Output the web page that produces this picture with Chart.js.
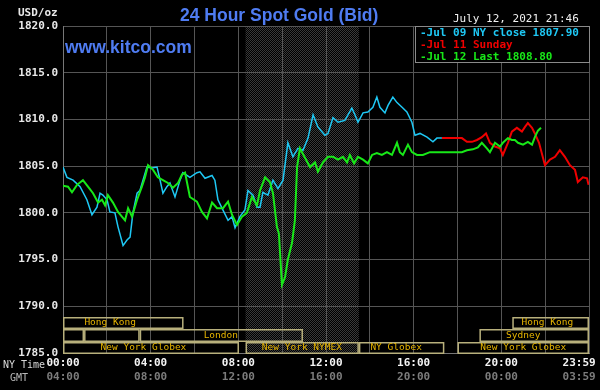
<!DOCTYPE html>
<html>
<head>
<meta charset="utf-8">
<script src="https://cdn.jsdelivr.net/npm/chart.js@4.4.1/dist/chart.umd.min.js"></script>
<style>
  html, body { margin: 0; padding: 0; background: #000; }
  canvas { display: block; }
</style>
</head>
<body>
<canvas id="goldChart" width="600" height="390"></canvas>
<script>
// hours after NY midnight, bid price USD/oz
const jul09Hours = [0, 0.18, 0.46, 0.78, 1.09, 1.32, 1.55, 1.69, 1.82, 2.01,
  2.14, 2.37, 2.51, 2.74, 2.92, 3.06, 3.19, 3.38, 3.51, 3.65,
  3.83, 4.06, 4.29, 4.43, 4.56, 4.74, 4.88, 5.11, 5.34, 5.47,
  5.79, 6.11, 6.25, 6.48, 6.80, 6.93, 7.07, 7.30, 7.53, 7.71,
  7.85, 8.07, 8.30, 8.44, 8.67, 8.85, 8.99, 9.12, 9.35, 9.58,
  9.81, 10.04, 10.26, 10.49, 10.72, 10.95, 11.18, 11.41, 11.63, 11.95,
  12.09, 12.32, 12.55, 12.86, 13.18, 13.32, 13.46, 13.69, 13.91, 14.14,
  14.32, 14.46, 14.69, 14.83, 15.05, 15.24, 15.47, 15.69, 15.92, 16.06,
  16.29, 16.61, 16.88, 17.06, 17.29];
const jul09Prices = [1804.9, 1803.8, 1803.5, 1802.8, 1801.4, 1799.8, 1800.6, 1802.1, 1801.9, 1801.4,
  1800.1, 1800.0, 1798.5, 1796.5, 1797.1, 1797.4, 1800.0, 1802.1, 1802.4, 1803.5,
  1804.9, 1804.8, 1804.9, 1803.5, 1802.1, 1802.8, 1803.2, 1801.7, 1803.5, 1804.3,
  1803.8, 1804.3, 1804.4, 1803.7, 1804.0, 1803.5, 1801.4, 1800.3, 1799.2, 1799.6,
  1798.4, 1799.6, 1800.3, 1802.4, 1801.9, 1800.6, 1800.6, 1802.2, 1801.9, 1803.5,
  1802.6, 1803.5, 1807.5, 1806.0, 1806.9, 1806.7, 1808.0, 1810.5, 1809.2, 1808.3,
  1808.5, 1810.2, 1809.7, 1809.9, 1811.2, 1810.5, 1809.7, 1810.7, 1810.8, 1811.3,
  1812.4, 1811.3, 1810.7, 1811.5, 1812.4, 1811.8, 1811.3, 1810.8, 1809.7, 1808.3,
  1808.5, 1808.1, 1807.6, 1808.0, 1808.0];

const jul11Hours = [17.29, 18.20, 18.43, 18.66, 18.89, 19.11, 19.30, 19.48, 19.71, 19.94,
  20.07, 20.30, 20.48, 20.71, 20.94, 21.08, 21.21, 21.40, 21.53, 21.72,
  21.99, 22.22, 22.45, 22.67, 22.90, 23.13, 23.36, 23.49, 23.72, 23.91,
  23.98];
const jul11Prices = [1808.0, 1808.0, 1807.6, 1807.6, 1807.8, 1808.1, 1808.5, 1807.5, 1807.1, 1806.9,
  1806.2, 1807.5, 1808.7, 1809.1, 1808.7, 1809.2, 1809.6, 1809.1, 1808.5, 1807.5,
  1805.1, 1805.7, 1806.0, 1806.7, 1806.0, 1805.1, 1804.6, 1803.3, 1803.8, 1803.7,
  1803.0];

const jul12Hours = [0, 0.23, 0.41, 0.64, 0.91, 1.14, 1.37, 1.60, 1.78, 1.92,
  2.05, 2.28, 2.51, 2.83, 2.97, 3.15, 3.38, 3.60, 3.74, 3.88,
  4.11, 4.33, 4.56, 4.79, 5.02, 5.25, 5.43, 5.57, 5.79, 6.11,
  6.34, 6.57, 6.80, 7.03, 7.30, 7.53, 7.71, 7.94, 8.17, 8.39,
  8.62, 8.85, 8.99, 9.22, 9.44, 9.58, 9.76, 9.85, 9.99, 10.13,
  10.26, 10.45, 10.58, 10.68, 10.81, 11.04, 11.27, 11.50, 11.63, 11.86,
  12.09, 12.32, 12.55, 12.77, 12.96, 13.09, 13.28, 13.46, 13.69, 13.91,
  14.10, 14.32, 14.55, 14.78, 15.01, 15.24, 15.37, 15.51, 15.74, 15.92,
  16.15, 16.42, 16.74, 17.06, 17.66, 18.20, 18.43, 18.70, 18.93, 19.11,
  19.34, 19.48, 19.71, 19.94, 20.07, 20.30, 20.48, 20.62, 20.76, 20.99,
  21.21, 21.40, 21.53, 21.67, 21.81];
const jul12Prices = [1802.9, 1802.8, 1802.2, 1803.0, 1803.5, 1802.8, 1802.1, 1801.1, 1801.4, 1800.8,
  1801.9, 1801.1, 1800.1, 1799.2, 1800.5, 1799.6, 1801.4, 1802.8, 1803.8, 1805.1,
  1804.6, 1803.8, 1803.5, 1803.2, 1802.7, 1803.2, 1804.1, 1804.3, 1801.7, 1801.2,
  1800.1, 1799.4, 1801.1, 1800.5, 1800.5, 1801.2, 1799.8, 1798.7, 1799.6, 1800.0,
  1801.7, 1800.8, 1802.4, 1803.8, 1803.3, 1802.1, 1798.5, 1797.8, 1792.3, 1793.1,
  1795.0, 1796.8, 1799.2, 1804.9, 1806.9, 1805.9, 1804.9, 1805.4, 1804.4, 1805.4,
  1806.0, 1806.0, 1805.7, 1806.0, 1805.4, 1806.2, 1805.3, 1806.0, 1805.7, 1805.3,
  1806.2, 1806.4, 1806.2, 1806.5, 1806.2, 1807.5, 1806.5, 1806.2, 1807.3, 1806.5,
  1806.2, 1806.2, 1806.5, 1806.5, 1806.5, 1806.5, 1806.7, 1806.8, 1807.0, 1807.5,
  1806.9, 1806.5, 1807.5, 1807.1, 1807.5, 1808.0, 1807.8, 1807.8, 1807.5, 1807.3,
  1807.6, 1807.3, 1808.1, 1808.8, 1809.1];

const seriesLabels = ["Jul 09 NY close 1807.90", "Jul 11 Sunday", "Jul 12 Last 1808.80"];

// trading sessions strip (row 0 = top)
const sessionNames = ["Hong Kong", "", "", "London", "New York Globex", "New York NYMEX", "NY Globex", "New York Globex", "Sydney", "Hong Kong"];
const sessionStart = [0, 0, 0.96, 3.5, 0, 8.33, 13.5, 18.0, 19.0, 20.5];
const sessionEnd = [5.5, 0.96, 3.5, 10.95, 8.03, 13.5, 17.4, 24, 24, 24];
const sessionRow = [0, 1, 1, 1, 2, 2, 2, 2, 1, 0];
const sessionLabelAt = [2.15, 0, 0, 7.2, 3.67, 10.9, 15.2, 21.0, 21.0, 22.1];
const nymexHours = [8.33, 13.5];

const mono = "'DejaVu Sans Mono', monospace";

function hhmm(h) {
  if (h >= 24) return "23:59";
  return String(h).padStart(2, "0") + ":00";
}

function points(hours, prices) {
  return hours.map((h, i) => ({ x: h, y: prices[i] }));
}

function checker(ctx) {
  const c = document.createElement("canvas");
  c.width = c.height = 2;
  const g = c.getContext("2d");
  g.fillStyle = "#3a3a3a";
  g.fillRect(0, 0, 1, 1);
  g.fillRect(1, 1, 1, 1);
  return ctx.createPattern(c, "repeat");
}

const kitcoDecor = {
  id: "kitcoDecor",
  beforeDraw(chart) {
    const { ctx, chartArea: a } = chart;
    const x = chart.scales.x;
    ctx.save();
    ctx.fillStyle = "#000";
    ctx.fillRect(0, 0, chart.width, chart.height);
    // NYMEX pit hours
    const s = x.getPixelForValue(nymexHours[0]);
    const e = x.getPixelForValue(nymexHours[1]);
    ctx.fillStyle = checker(ctx);
    ctx.fillRect(s, a.top, e - s, a.bottom - a.top);
    ctx.restore();
  },
  afterDatasetsDraw(chart) {
    const { ctx, chartArea: a } = chart;
    const x = chart.scales.x;
    ctx.save();

    // session boxes
    const rowTop = [a.bottom - 36, a.bottom - 24, a.bottom - 11];
    const rowH = [11, 12, 11];
    ctx.strokeStyle = "#b8b07c";
    ctx.lineWidth = 1.5;
    ctx.font = "9.5px " + mono;
    ctx.textAlign = "center";
    ctx.textBaseline = "middle";
    sessionNames.forEach((name, i) => {
      const x0 = x.getPixelForValue(sessionStart[i]);
      const x1 = x.getPixelForValue(sessionEnd[i]);
      const r = sessionRow[i];
      ctx.strokeRect(x0 + 0.75, rowTop[r] + 0.75, x1 - x0 - 1.5, rowH[r] - 0.5);
      if (name) {
        ctx.fillStyle = "#e6b400";
        ctx.fillText(name, x.getPixelForValue(sessionLabelAt[i]), rowTop[r] + rowH[r] / 2 + 0.5);
      }
    });

    // legend box
    const lx = a.right - 174, ly = a.top;
    ctx.fillStyle = "#000";
    ctx.fillRect(lx, ly, a.right - lx, 36);
    ctx.strokeStyle = "#8a8a8a";
    ctx.lineWidth = 1;
    ctx.strokeRect(lx + 0.5, ly + 0.5, a.right - lx, 36);
    ctx.font = "bold 11px " + mono;
    ctx.textAlign = "left";
    chart.data.datasets.forEach((ds, i) => {
      ctx.fillStyle = ds.borderColor;
      ctx.fillText("-" + ds.label, lx + 5, ly + 7 + i * 12);
    });
    ctx.restore();
  },
  afterDraw(chart) {
    const { ctx } = chart;
    ctx.save();
    ctx.fillStyle = "#4f7cf2";
    ctx.font = "bold 17.5px 'Liberation Sans', Arial, sans-serif";
    ctx.textBaseline = "alphabetic";
    ctx.textAlign = "left";
    ctx.fillText("24 Hour Spot Gold (Bid)", 180, 21);
    ctx.fillText("www.kitco.com", 65, 53);

    ctx.textBaseline = "middle";
    ctx.fillStyle = "#f0f0f0";
    ctx.font = "11px " + mono;
    ctx.fillText("July 12, 2021 21:46", 453, 19);
    ctx.font = "bold 11px " + mono;
    ctx.fillStyle = "#e8e8e8";
    ctx.fillText("USD/oz", 18, 13);

    ctx.font = "10px " + mono;
    ctx.fillStyle = "#d8d8d8";
    ctx.fillText("NY Time", 3, 365);
    ctx.fillStyle = "#b8b8b8";
    ctx.fillText("GMT", 10, 378);
    ctx.restore();
  }
};

const noSidePadding = (scale) => {
  scale.paddingLeft = 0;
  scale.paddingRight = 0;
};

new Chart(document.getElementById("goldChart"), {
  type: "line",
  data: {
    datasets: [
      { label: seriesLabels[0], data: points(jul09Hours, jul09Prices), borderColor: "#1ec8f4", borderWidth: 1.5, order: 2 },
      { label: seriesLabels[1], data: points(jul11Hours, jul11Prices), borderColor: "#f00000", borderWidth: 2, order: 1 },
      { label: seriesLabels[2], data: points(jul12Hours, jul12Prices), borderColor: "#18e818", borderWidth: 2, order: 0 }
    ]
  },
  options: {
    responsive: false,
    animation: false,
    events: [],
    elements: { point: { radius: 0 }, line: { tension: 0 } },
    layout: { padding: { top: 26, right: 11, left: 0, bottom: 0 } },
    plugins: { legend: { display: false }, tooltip: { enabled: false } },
    scales: {
      x: {
        type: "linear",
        min: 0,
        max: 24,
        grid: { color: "#555", drawTicks: false },
        border: { color: "#777" },
        ticks: {
          stepSize: 2,
          autoSkip: false,
          maxRotation: 0,
          padding: 4,
          color: "#f4f4f4",
          font: { family: mono, size: 11, weight: "bold" },
          callback: (v) => (v % 4 ? "" : (v >= 24 ? hhmm(v) + "   " : hhmm(v)))
        },
        afterFit: (scale) => { scale.height = 16; noSidePadding(scale); }
      },
      x2: {
        type: "linear",
        position: "bottom",
        min: 0,
        max: 24,
        grid: { display: false, drawTicks: false },
        border: { display: false },
        ticks: {
          stepSize: 2,
          autoSkip: false,
          maxRotation: 0,
          padding: 2,
          color: "#7c7c7c",
          font: { family: mono, size: 11, weight: "bold" },
          callback: (v) => (v % 4 ? "" : (v >= 24 ? "03:59   " : hhmm((v + 4) % 24)))
        },
        afterFit: (scale) => { scale.height = 21; noSidePadding(scale); }
      },
      y: {
        min: 1785,
        max: 1820,
        grid: { color: "#555", drawTicks: false },
        border: { color: "#777" },
        ticks: {
          stepSize: 5,
          padding: 5,
          color: "#e8e8e8",
          font: { family: mono, size: 11, weight: "bold" },
          callback: (v) => v.toFixed(1)
        },
        afterFit: (scale) => { scale.width = 63; }
      }
    }
  },
  plugins: [kitcoDecor]
});
</script>
</body>
</html>
